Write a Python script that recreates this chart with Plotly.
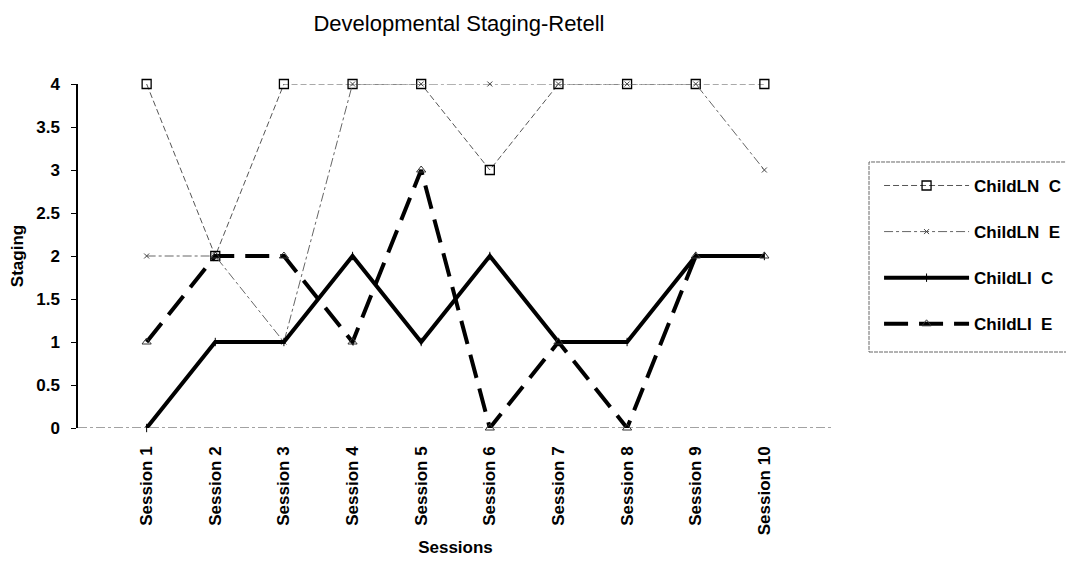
import plotly.graph_objects as go

sessions = ["Session 1", "Session 2", "Session 3", "Session 4", "Session 5",
            "Session 6", "Session 7", "Session 8", "Session 9", "Session 10"]
childLN_C = [4, 2, 4, 4, 4, 3, 4, 4, 4, 4]
childLN_E = [2, 2, 1, 4, 4, 4, 4, 4, 4, 3]
childLI_C = [0, 1, 1, 2, 1, 2, 1, 1, 2, 2]
childLI_E = [1, 2, 2, 1, 3, 0, 1, 0, 2, 2]
y_ticks = [0, 0.5, 1, 1.5, 2, 2.5, 3, 3.5, 4]

xpos = list(range(1, len(sessions) + 1))
FONT = "Liberation Sans, Arial, sans-serif"

fig = go.Figure()
fig.add_trace(go.Scatter(
    x=xpos, y=childLN_C, name="ChildLN  C", mode="lines+markers",
    line=dict(color="#555", width=1, dash="6px,3px"),
    marker=dict(symbol="square-open", size=9, color="black", line=dict(width=1.3)),
    legendgroup="a", cliponaxis=False))
fig.add_trace(go.Scatter(
    x=xpos, y=childLN_E, name="ChildLN  E", mode="lines+markers",
    line=dict(color="#666", width=1, dash="dashdot"),
    marker=dict(symbol="x-thin-open", size=5, color="#444", line=dict(width=1)),
    legendgroup="b", cliponaxis=False))
fig.add_trace(go.Scatter(
    x=xpos, y=childLI_C, name="ChildLI  C", mode="lines+markers",
    line=dict(color="black", width=4),
    marker=dict(symbol="line-ns-open", size=6, color="black", line=dict(width=1)),
    legendgroup="c", cliponaxis=False))
fig.add_trace(go.Scatter(
    x=xpos, y=childLI_E, name="ChildLI  E", mode="lines+markers",
    line=dict(color="black", width=4, dash="24px,11px"),
    marker=dict(symbol="triangle-up-open", size=8, color="#333", line=dict(width=1)),
    legendgroup="d", cliponaxis=False))

# x-axis baseline (dash-dot like the scan)
fig.add_shape(type="line", xref="x", yref="y", x0=0, x1=11, y0=0, y1=0,
              line=dict(color="#444", width=1, dash="dashdot"), layer="below")
# legend frame
fig.add_shape(type="rect", xref="paper", yref="paper",
              x0=1.0477, x1=1.3166, y0=0.2209, y1=0.7733,
              line=dict(color="#666", width=1, dash="4px,1px"), layer="below")

fig.update_layout(
    width=1074, height=565,
    margin=dict(l=70, r=249, t=76, b=145),
    paper_bgcolor="white", plot_bgcolor="white",
    font=dict(family=FONT, color="black", size=17),
    title=dict(text="Developmental Staging-Retell", xref="paper", x=0.5046,
               xanchor="center", yref="container", y=0.9735, yanchor="middle",
               font=dict(size=22, family=FONT)),
    showlegend=True,
    legend=dict(x=1.061, y=0.756, xanchor="left", yanchor="top",
                borderwidth=0, tracegroupgap=21,
                font=dict(size=17, family=FONT, weight="bold"), itemwidth=85,
                bgcolor="rgba(0,0,0,0)"),
)
fig.update_xaxes(
    range=[0, 11], tickmode="array", tickvals=xpos, ticktext=sessions,
    tickangle=-90, showgrid=False, zeroline=False, showline=False,
    ticks="", ticklabelstandoff=14, automargin=False,
    tickfont=dict(size=17, family=FONT, weight="bold"),
    title=dict(text="Sessions", font=dict(size=17, family=FONT, weight="bold"),
               standoff=6),
)
fig.update_yaxes(
    range=[0, 4], tickmode="array", tickvals=y_ticks,
    ticktext=[f"{v:g}" for v in y_ticks],
    showgrid=False, zeroline=False, showline=True, linecolor="black", linewidth=1.5,
    ticks="outside", ticklen=5, tickcolor="black", ticklabelstandoff=8,
    automargin=False,
    tickfont=dict(size=17, family=FONT, weight="bold"),
    title=dict(text="Staging", font=dict(size=17, family=FONT, weight="bold"),
               standoff=9),
)

fig.write_html("out.html")
